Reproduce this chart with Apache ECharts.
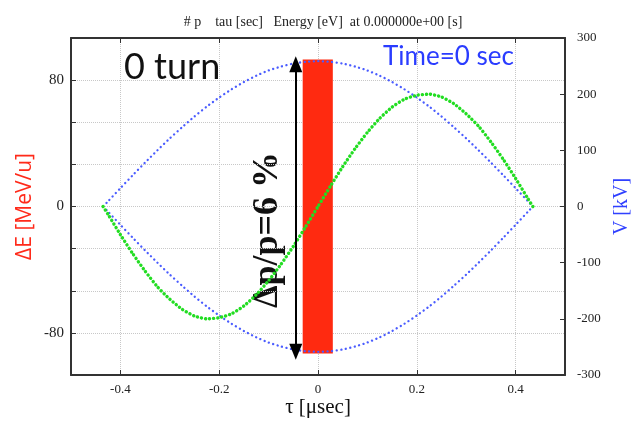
<!DOCTYPE html>
<html>
<head>
<meta charset="utf-8">
<script src="https://cdn.jsdelivr.net/npm/echarts@6/dist/echarts.min.js"></script>
<style>
  html, body { margin: 0; padding: 0; background: #fff; }
  #chart { width: 631px; height: 424px; }
</style>
</head>
<body>
<div id="chart"></div>
<script>
// tau [usec] sample points along the bucket
const tau = [-0.435, -0.425, -0.4, -0.375, -0.35, -0.325, -0.3, -0.275, -0.25, -0.225, -0.2, -0.175, -0.15, -0.125, -0.1, -0.075, -0.05, -0.025,
  0, 0.025, 0.05, 0.075, 0.1, 0.125, 0.15, 0.175, 0.2, 0.225, 0.25, 0.275, 0.3, 0.325, 0.35, 0.375, 0.4, 0.425, 0.435];
// separatrix dE [MeV/u], upper and lower branch
const sepUpper = [0, 3.3, 11.6, 19.8, 27.8, 35.6, 43.1, 50.2, 57.0, 63.3, 69.0, 74.2, 78.8, 82.8, 86.1, 88.6, 90.5, 91.6,
  92, 91.6, 90.5, 88.6, 86.1, 82.8, 78.8, 74.2, 69.0, 63.3, 57.0, 50.2, 43.1, 35.6, 27.8, 19.8, 11.6, 3.3, 0];
const sepLower = [0, -3.3, -11.6, -19.8, -27.8, -35.6, -43.1, -50.2, -57.0, -63.3, -69.0, -74.2, -78.8, -82.8, -86.1, -88.6, -90.5, -91.6,
  -92, -91.6, -90.5, -88.6, -86.1, -82.8, -78.8, -74.2, -69.0, -63.3, -57.0, -50.2, -43.1, -35.6, -27.8, -19.8, -11.6, -3.3, 0];
// RF voltage [kV]
const rfVolt = [0, -14, -50, -84, -115, -143, -165, -183, -195, -200, -198, -191, -177, -157, -132, -103, -71, -36,
  0, 36, 71, 103, 132, 157, 177, 191, 198, 200, 195, 183, 165, 143, 115, 84, 50, 14, 0];
// bunch extent (tau, dE)
const bunchTau = [-0.031, 0.030];
const bunchDE = [-93, 93];
// dp/p arrow
const arrowTau = -0.045;
const arrowDE = [90, -92];
// ticks
const xTicks = [-0.4, -0.2, 0, 0.2, 0.4];
const leftTicks = [-80, -160 / 3, -80 / 3, 0, 80 / 3, 160 / 3, 80];
const leftLabels = [-80, 0, 80];

const chart = echarts.init(document.getElementById('chart'));
const serif = '"Liberation Serif", "DejaVu Serif", serif';
const frame = { show: true, onZero: false, lineStyle: { color: '#333', width: 2 } };
const grid = { type: 'dotted', color: '#c8c8c8', width: 1 };
const tick = { inside: true, length: 5, lineStyle: { color: '#333' } };

chart.setOption({
  animation: false,
  title: {
    text: '# p    tau [sec]   Energy [eV]  at 0.000000e+00 [s]',
    left: 318, top: 10, textAlign: 'center',
    textStyle: { fontFamily: serif, fontSize: 14, fontWeight: 'normal', color: '#222' },
  },
  grid: { left: 71, right: 66, top: 38, bottom: 49, outerBoundsMode: 'none', containLabel: false },
  xAxis: [
    {
      type: 'value', min: -0.5, max: 0.5, position: 'bottom',
      name: 'τ [μsec]', nameLocation: 'middle', nameGap: 22, nameMoveOverlap: false,
      nameTextStyle: { fontFamily: serif, fontSize: 21, color: '#111' },
      axisLine: frame,
      axisTick: Object.assign({ customValues: xTicks }, tick),
      axisLabel: { customValues: xTicks, fontFamily: serif, fontSize: 13, color: '#222', margin: 8 },
      splitLine: { show: true, lineStyle: grid },
    },
    {
      type: 'value', min: -0.5, max: 0.5, position: 'top',
      axisLine: frame,
      axisTick: Object.assign({ customValues: xTicks }, tick),
      axisLabel: { show: false },
      splitLine: { show: false },
    },
  ],
  yAxis: [
    {
      type: 'value', min: -320 / 3, max: 320 / 3, position: 'left',
      name: 'ΔE [MeV/u]', nameLocation: 'middle', nameGap: 35, nameMoveOverlap: false,
      nameTextStyle: { fontFamily: '"Open Sans", sans-serif', fontSize: 21, color: '#ff2a1a' },
      axisLine: frame,
      axisTick: Object.assign({ customValues: leftTicks }, tick),
      axisLabel: { customValues: leftLabels, fontFamily: serif, fontSize: 15, color: '#222', margin: 7 },
      splitLine: { show: true, lineStyle: grid },
    },
    {
      type: 'value', min: -300, max: 300, interval: 100, position: 'right',
      name: 'V [kV]', nameLocation: 'middle', nameGap: 47, nameMoveOverlap: false,
      nameTextStyle: { fontFamily: serif, fontSize: 20, color: '#3040ff' },
      axisLine: frame,
      axisTick: tick,
      axisLabel: { fontFamily: serif, fontSize: 13, color: '#222', margin: 12 },
      splitLine: { show: false },
    },
  ],
  graphic: [
    { type: 'text', x: 124, y: 67, style: { text: '0 turn', font: '36px Lato, sans-serif', fill: '#111', verticalAlign: 'middle' } },
    { type: 'text', x: 383, y: 57, style: { text: 'Time=0 sec', font: '26px Lato, sans-serif', fill: '#2a3cff', verticalAlign: 'middle' } },
    {
      type: 'text', x: 268, y: 230, rotation: Math.PI / 2,
      style: { text: 'Δp/p=6 %', font: 'bold 36px "Liberation Serif", serif', fill: '#111', align: 'center', verticalAlign: 'middle' },
    },
  ],
  series: [
    {
      name: 'sep+', type: 'line', smooth: 0.2, showSymbol: false,
      data: tau.map((t, i) => [t, sepUpper[i]]),
      lineStyle: { color: '#4a5cff', width: 2.3, type: [0.1, 4.5], cap: 'round' },
    },
    {
      name: 'sep-', type: 'line', smooth: 0.2, showSymbol: false,
      data: tau.map((t, i) => [t, sepLower[i]]),
      lineStyle: { color: '#4a5cff', width: 2.3, type: [0.1, 4.5], cap: 'round' },
    },
    {
      name: 'V', type: 'line', yAxisIndex: 1, smooth: 0.2, showSymbol: false,
      data: tau.map((t, i) => [t, rfVolt[i]]),
      lineStyle: { color: '#22dd22', width: 3.4, type: [0.1, 4], cap: 'round' },
    },
    {
      name: 'bunch', type: 'scatter', data: [], z: 5,
      markArea: {
        silent: true,
        itemStyle: { color: '#ff2a10' },
        data: [[{ coord: [bunchTau[0], bunchDE[0]] }, { coord: [bunchTau[1], bunchDE[1]] }]],
      },
      markLine: {
        silent: true,
        symbol: ['triangle', 'triangle'],
        symbolSize: [13, 16],
        lineStyle: { color: '#000', width: 2, type: 'solid' },
        label: { show: false },
        data: [[{ coord: [arrowTau, arrowDE[0]] }, { coord: [arrowTau, arrowDE[1]] }]],
      },
    },
  ],
});
</script>
</body>
</html>
